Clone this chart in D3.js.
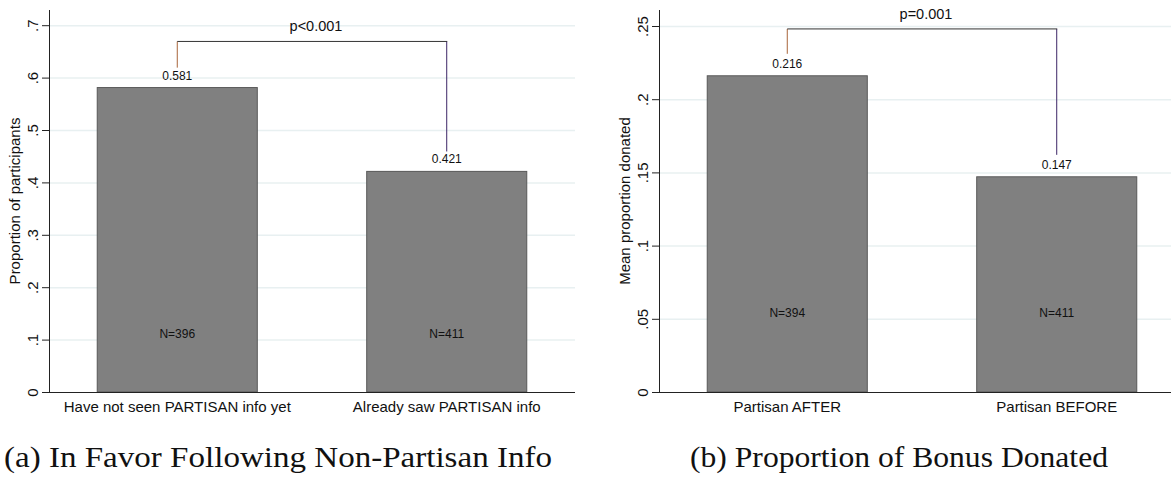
<!DOCTYPE html>
<html>
<head>
<meta charset="utf-8">
<script src="https://cdn.jsdelivr.net/npm/d3@7"></script>
<style>
  html, body { margin: 0; padding: 0; background: #fff; }
  svg { display: block; }
  .sans { font-family: "Liberation Sans", Arial, sans-serif; fill: #111; }
  .caption { font-family: "Liberation Serif", "Times New Roman", serif; fill: #111; }
</style>
</head>
<body>
<svg id="chart" width="1171" height="477"></svg>
<script>
// Panel (a): in favor following non-partisan info
const catsA = ['Have not seen PARTISAN info yet', 'Already saw PARTISAN info'];
const valsA = [0.581, 0.421];
const nA = [396, 411];
const ticksA = [0, 0.1, 0.2, 0.3, 0.4, 0.5, 0.6, 0.7];
const tickLabelsA = ['0', '.1', '.2', '.3', '.4', '.5', '.6', '.7'];
const pA = 'p<0.001';

// Panel (b): proportion of bonus donated
const catsB = ['Partisan AFTER', 'Partisan BEFORE'];
const valsB = [0.216, 0.147];
const nB = [394, 411];
const ticksB = [0, 0.05, 0.1, 0.15, 0.2, 0.25];
const tickLabelsB = ['0', '.05', '.1', '.15', '.2', '.25'];
const pB = 'p=0.001';

let svg = d3.select('#chart');

drawPanel({
    cats: catsA, vals: valsA, ns: nA, ticks: ticksA, tickLabels: tickLabelsA,
    ymax: 0.7, nAt: 0.1, bracketGap: 0.038, bracketTop: 0.669, pText: pA,
    left: 49, right: 575, yTop: 25.2, ytitle: 'Proportion of participants',
    caption: '(a) In Favor Following Non-Partisan Info', captionX: 278, captionW: 548
});

drawPanel({
    cats: catsB, vals: valsB, ns: nB, ticks: ticksB, tickLabels: tickLabelsB,
    ymax: 0.25, nAt: 0.05, bracketGap: 0.015, bracketTop: 0.248, pText: pB,
    left: 659, right: 1185, yTop: 26, ytitle: 'Mean proportion donated',
    caption: '(b) Proportion of Bonus Donated', captionX: 899, captionW: 418
});

function drawPanel(o)
{
    let bottom = 392;
    let g = svg.append('g');

    let x = d3.scaleBand()
        .domain(o.cats)
        .range([o.left, o.right])
        .paddingInner(0.406)
        .paddingOuter(0.179);

    let y = d3.scaleLinear()
        .domain([0, o.ymax])
        .range([bottom, o.yTop]);

    // Gridlines
    g.selectAll('.grid')
        .data(o.ticks.slice(1))
        .enter().append('line')
        .attr('x1', o.left)
        .attr('x2', Math.min(o.right, 1171))
        .attr('y1', d => y(d) + 0.5)
        .attr('y2', d => y(d) + 0.5)
        .style('stroke', '#e8f0f1')
        .style('stroke-width', 1.5);

    // Bars
    g.selectAll('.bar')
        .data(o.vals)
        .enter().append('rect')
        .attr('x', (d, i) => x(o.cats[i]))
        .attr('y', d => y(d))
        .attr('width', x.bandwidth())
        .attr('height', d => bottom - y(d))
        .style('fill', '#808080')
        .style('stroke', '#595959')
        .style('stroke-width', 1);

    // Value labels
    g.selectAll('.val')
        .data(o.vals)
        .enter().append('text')
        .attr('class', 'sans')
        .attr('x', (d, i) => x(o.cats[i]) + x.bandwidth() / 2)
        .attr('y', d => y(d) - 8)
        .style('text-anchor', 'middle')
        .attr('font-size', 12)
        .text(d => d.toFixed(3));

    // N labels
    g.selectAll('.nlab')
        .data(o.ns)
        .enter().append('text')
        .attr('class', 'sans')
        .attr('x', (d, i) => x(o.cats[i]) + x.bandwidth() / 2)
        .attr('y', y(o.nAt) - 2)
        .style('text-anchor', 'middle')
        .attr('font-size', 12)
        .text(d => 'N=' + d);

    // Y axis with rotated labels
    let yAxis = d3.axisLeft(y)
        .tickValues(o.ticks)
        .tickFormat((d, i) => o.tickLabels[i])
        .tickSize(7)
        .tickSizeOuter(0);

    let ga = g.append('g')
        .attr('transform', 'translate(' + o.left + ',0)')
        .call(yAxis);
    ga.select('.domain').remove();
    ga.selectAll('.tick line').style('stroke', '#222');
    ga.selectAll('.tick text')
        .attr('class', 'sans')
        .attr('font-size', 15)
        .attr('x', null)
        .attr('transform', 'translate(-16,0) rotate(-90)')
        .attr('dy', '0.35em')
        .style('text-anchor', 'middle');

    // Axis lines
    g.append('line')
        .attr('x1', o.left + 0.5).attr('x2', o.left + 0.5)
        .attr('y1', 10).attr('y2', bottom + 0.5)
        .style('stroke', '#222');
    g.append('line')
        .attr('x1', o.left).attr('x2', Math.min(o.right, 1171))
        .attr('y1', bottom + 0.5).attr('y2', bottom + 0.5)
        .style('stroke', '#222');

    // X labels
    g.selectAll('.xlab')
        .data(o.cats)
        .enter().append('text')
        .attr('class', 'sans')
        .attr('x', d => x(d) + x.bandwidth() / 2)
        .attr('y', 412)
        .style('text-anchor', 'middle')
        .attr('font-size', 15)
        .text(d => d);

    // Y title
    g.append('text')
        .attr('class', 'sans')
        .attr('transform', 'translate(' + (o.left - 34) + ',201) rotate(-90)')
        .attr('dy', '0.35em')
        .style('text-anchor', 'middle')
        .attr('font-size', 15)
        .text(o.ytitle);

    // Significance bracket
    let cx0 = x(o.cats[0]) + x.bandwidth() / 2;
    let cx1 = x(o.cats[1]) + x.bandwidth() / 2;
    let yb = y(o.bracketTop);

    g.append('line')
        .attr('x1', cx0).attr('x2', cx0)
        .attr('y1', y(o.vals[0] + o.bracketGap)).attr('y2', yb)
        .style('stroke', '#a8653a');
    g.append('line')
        .attr('x1', cx1).attr('x2', cx1)
        .attr('y1', y(o.vals[1] + o.bracketGap)).attr('y2', yb)
        .style('stroke', '#3b2466');
    g.append('line')
        .attr('x1', cx0).attr('x2', cx1 + 0.5)
        .attr('y1', yb).attr('y2', yb)
        .style('stroke', '#333');

    g.append('text')
        .attr('class', 'sans')
        .attr('x', (cx0 + cx1) / 2 + 4)
        .attr('y', yb - 10)
        .style('text-anchor', 'middle')
        .attr('font-size', 14.5)
        .text(o.pText);

    // Caption
    g.append('text')
        .attr('class', 'caption')
        .attr('x', o.captionX)
        .attr('y', 467)
        .style('text-anchor', 'middle')
        .attr('font-size', 30)
        .attr('textLength', o.captionW)
        .attr('lengthAdjust', 'spacingAndGlyphs')
        .text(o.caption);
}
</script>
</body>
</html>
